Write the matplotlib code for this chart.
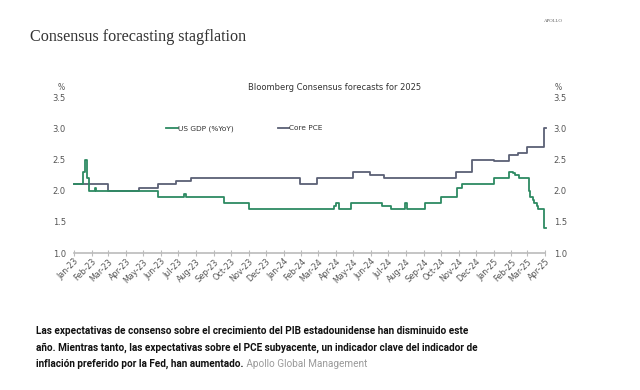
import matplotlib
matplotlib.use("Agg")
import matplotlib.pyplot as plt
import matplotlib.dates as mdates
import pandas as pd
from matplotlib import font_manager

gdp_dates = ["2023-01-01", "2023-01-16", "2023-01-20", "2023-01-23", "2023-01-27", "2023-02-06",
             "2023-02-08", "2023-05-27", "2023-07-12", "2023-07-14", "2023-09-19", "2023-11-01",
             "2024-03-28", "2024-04-02", "2024-04-06", "2024-04-27", "2024-06-21", "2024-07-06",
             "2024-07-31", "2024-08-03", "2024-09-03", "2024-10-01", "2024-10-29", "2024-11-06",
             "2025-01-01", "2025-01-28", "2025-02-03", "2025-02-07", "2025-02-14", "2025-03-03",
             "2025-03-06", "2025-03-10", "2025-03-13", "2025-03-17", "2025-03-20", "2025-03-29",
             "2025-04-02"]
gdp_values = [2.1, 2.3, 2.5, 2.2, 2.0, 2.05,
              2.0, 1.9, 1.95, 1.9, 1.8, 1.7,
              1.75, 1.8, 1.7, 1.8, 1.75, 1.7,
              1.8, 1.7, 1.8, 1.9, 2.05, 2.1,
              2.2, 2.3, 2.28, 2.25, 2.2, 2.0,
              1.9, 1.85, 1.8, 1.75, 1.7, 1.4,
              1.4]

pce_dates = ["2023-01-01", "2023-03-01", "2023-04-24", "2023-05-27", "2023-06-28", "2023-07-23",
             "2024-01-30", "2024-02-28", "2024-04-30", "2024-05-30", "2024-06-24", "2024-10-28",
             "2024-11-25", "2025-01-02", "2025-01-28", "2025-02-12", "2025-03-01", "2025-03-29",
             "2025-04-02"]
pce_values = [2.1, 2.0, 2.05, 2.1, 2.15, 2.2,
              2.1, 2.2, 2.3, 2.25, 2.2, 2.3,
              2.5, 2.48, 2.57, 2.6, 2.7, 3.0,
              3.0]

y_ticks = [1.0, 1.5, 2.0, 2.5, 3.0, 3.5]
series_names = ["US GDP (%YoY)", "Core PCE"]

GREEN = "#2d8a62"
GRAY = "#5b6075"
TICKC = "#555555"

available = {f.name for f in font_manager.fontManager.ttflist}
cap_family = "Liberation Sans Narrow" if "Liberation Sans Narrow" in available else "Roboto"
cap_size = 8.45 if cap_family == "Liberation Sans Narrow" else 7.2

fig = plt.figure(figsize=(6.4, 3.9), dpi=100)
ax = fig.add_axes([0.116, 0.351, 0.736, 0.400])

ax.plot(pd.to_datetime(pce_dates), pce_values, drawstyle="steps-post", color=GRAY, lw=1.3,
        label=series_names[1], clip_on=False, zorder=2)
ax.plot(pd.to_datetime(gdp_dates), gdp_values, drawstyle="steps-post", color=GREEN, lw=1.3,
        label=series_names[0], clip_on=False, zorder=3)

ax.set_ylim(1.0, 3.5)
ax.set_xlim(pd.Timestamp("2023-01-01"), pd.Timestamp("2025-04-01"))
ax.set_yticks(y_ticks)
ax.set_yticklabels([f"{v:.1f}" for v in y_ticks])
ax.tick_params(axis="y", length=0, labelsize=6, colors=TICKC, pad=6,
               labelleft=True, labelright=True)

ax.xaxis.set_major_locator(mdates.MonthLocator())
ax.xaxis.set_major_formatter(mdates.DateFormatter("%b-%y"))
ax.tick_params(axis="x", direction="inout", length=4, width=0.8, color="#bbbbbb",
               labelsize=5.8, labelcolor=TICKC, pad=1)
for lab in ax.get_xticklabels():
    lab.set_rotation(45)
    lab.set_ha("right")
    lab.set_rotation_mode("anchor")

for s in ["top", "left", "right"]:
    ax.spines[s].set_visible(False)
ax.spines["bottom"].set_color("#bbbbbb")
ax.spines["bottom"].set_linewidth(1.2)

ax.text(-0.028, 1.035, "%", transform=ax.transAxes, fontsize=5.5, color=TICKC, ha="center", va="bottom")
ax.text(1.028, 1.035, "%", transform=ax.transAxes, fontsize=5.5, color=TICKC, ha="center", va="bottom")
ax.text(0.552, 1.035, "Bloomberg Consensus forecasts for 2025", transform=ax.transAxes,
        fontsize=6.0, color="#333333", ha="center", va="bottom")

h, l = ax.get_legend_handles_labels()
ax.legend([h[1], h[0]], [l[1], l[0]], ncol=2, frameon=False, loc="center",
          bbox_to_anchor=(0.361, 0.80), fontsize=5.3, handlelength=1.6, handletextpad=0.0,
          columnspacing=6.0, labelcolor="#333333")

fig.text(0.047, 0.905, "Consensus forecasting stagflation", fontsize=11.6,
         family=["Liberation Serif", "DejaVu Serif"], color="#333333", ha="left", va="center")
fig.text(0.865, 0.945, "APOLLO", fontsize=3.5, family=["Liberation Serif", "DejaVu Serif"],
         color="#555555", ha="center", va="center")

cap_kw = dict(fontsize=cap_size, fontweight="bold", color="#111111", family=[cap_family, "DejaVu Sans"],
              ha="left", va="baseline")
x0 = 0.057
fig.text(x0, 0.143, "Las expectativas de consenso sobre el crecimiento del PIB estadounidense han disminuido este", **cap_kw)
fig.text(x0, 0.101, "año. Mientras tanto, las expectativas sobre el PCE subyacente, un indicador clave del indicador de", **cap_kw)
t3 = fig.text(x0, 0.059, "inflación preferido por la Fed, han aumentado.", **cap_kw)
t4 = fig.text(x0, 0.059, " Apollo Global Management", fontsize=cap_size, color="#9a9a9a",
              family=[cap_family, "DejaVu Sans"], ha="left", va="baseline")
fig.canvas.draw()
bb = t3.get_window_extent()
t4.set_position((bb.x1 / fig.bbox.width, 0.059))

fig.savefig("out.png", dpi=100, facecolor="white")
